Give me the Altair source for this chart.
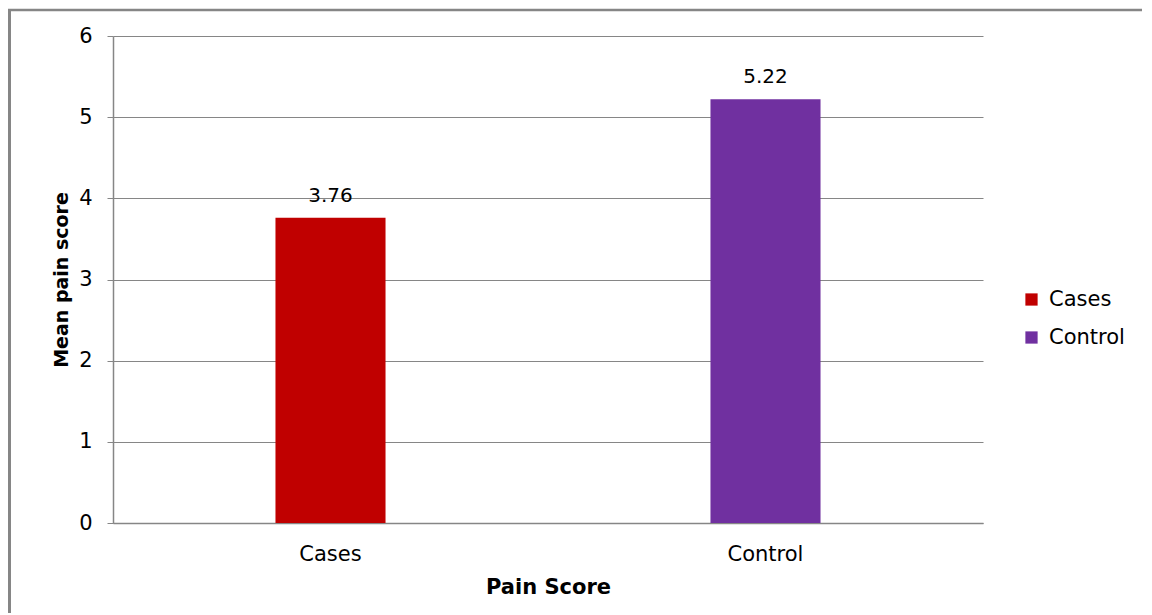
import altair as alt
import pandas as pd

# Mean pain score per group
groups = ["Cases", "Control"]
mean_scores = [3.76, 5.22]
bar_colors = ["#C00000", "#7030A0"]
y_ticks = [0, 1, 2, 3, 4, 5, 6]

df = pd.DataFrame({"group": groups, "score": mean_scores})

FONT = "DejaVu Sans"
GRAY = "#868686"

x_enc = alt.X(
    "group:N",
    sort=groups,
    title="Pain Score",
    scale=alt.Scale(domain=groups, paddingInner=0.747, paddingOuter=0.3735),
    axis=alt.Axis(
        labelAngle=0,
        ticks=False,
        labelPadding=20,
        titlePadding=12,
        domainColor=GRAY,
        domainWidth=1.5,
        labelFontSize=21,
        labelColor="#000000",
        titleFontSize=21,
        titleFontWeight="bold",
        titleColor="#000000",
    ),
)

y_enc = alt.Y(
    "score:Q",
    title="Mean pain score",
    scale=alt.Scale(domain=[0, 6], nice=False),
    axis=alt.Axis(
        values=y_ticks,
        format="d",
        grid=True,
        gridColor=GRAY,
        gridWidth=1,
        domainColor=GRAY,
        domainWidth=1.5,
        tickColor=GRAY,
        tickSize=6,
        labelPadding=15,
        labelFontSize=21,
        labelColor="#000000",
        titleFontSize=19,
        titleFontWeight="bold",
        titleColor="#000000",
        titlePadding=7,
    ),
)

base = alt.Chart(df)

bars = base.mark_bar().encode(
    x=x_enc,
    y=y_enc,
    color=alt.Color(
        "group:N",
        scale=alt.Scale(domain=groups, range=bar_colors),
        legend=alt.Legend(title=None, symbolType="square"),
    ),
)

labels = base.mark_text(
    baseline="bottom", dy=-12, fontSize=20, font=FONT, color="#000000"
).encode(
    x=alt.X("group:N", sort=groups),
    y=alt.Y("score:Q"),
    text=alt.Text("score:Q", format=".2f"),
)

# Outer chart frame: top and left edges
frame_src = alt.Chart(pd.DataFrame({"k": [0]}))
frame_top = frame_src.mark_rule(stroke=GRAY, strokeWidth=2.5).encode(
    x=alt.value(-105),
    x2=alt.value(1045),
    y=alt.value(-26),
)
frame_left = frame_src.mark_rule(stroke=GRAY, strokeWidth=3).encode(
    x=alt.value(-103.5),
    y=alt.value(-27),
    y2=alt.value(590),
)

chart = (
    alt.layer(frame_top, frame_left, bars, labels)
    .properties(
        width=870,
        height=487,
        padding={"left": 113, "top": 36, "right": 159, "bottom": 90},
        autosize=alt.AutoSizeParams(type="none"),
        background="#FFFFFF",
    )
    .configure(font=FONT)
    .configure_view(strokeWidth=0)
    .configure_legend(
        orient="none",
        legendX=908,
        legendY=253,
        labelFontSize=21,
        labelColor="#000000",
        labelFont=FONT,
        symbolSize=150,
        symbolStrokeWidth=0,
        rowPadding=16,
        labelOffset=7,
    )
)

chart.save("out.html", embed_options={"renderer": "svg", "actions": False})
